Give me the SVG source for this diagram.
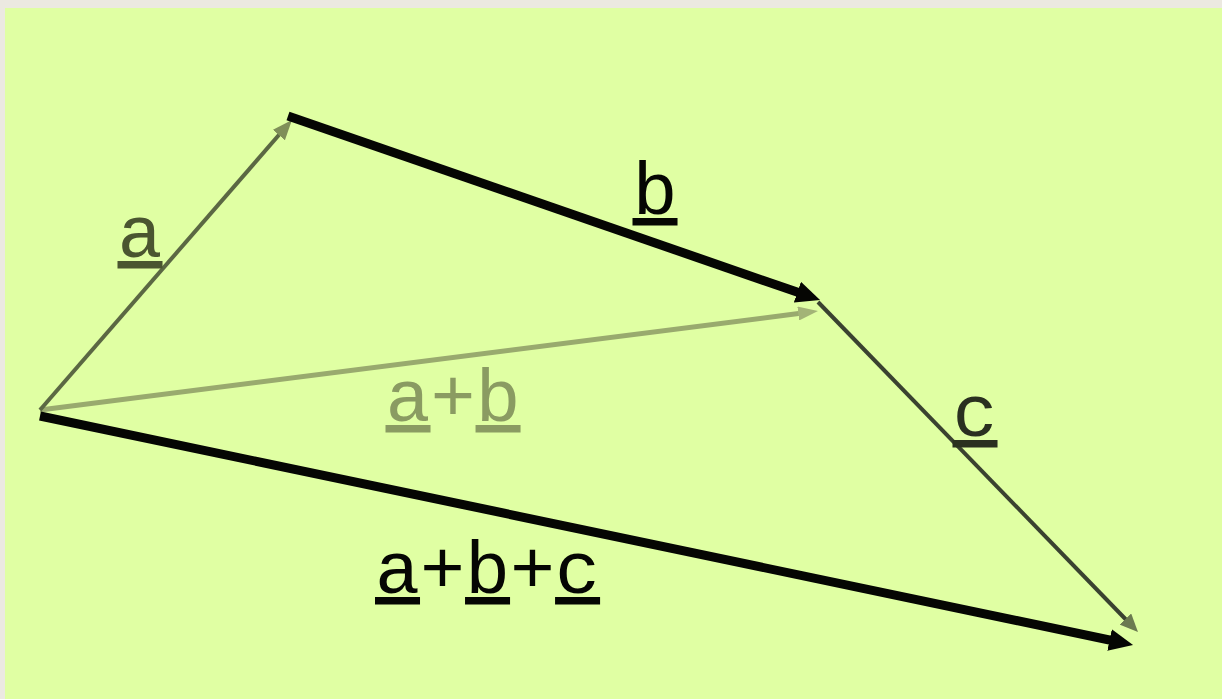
<svg xmlns="http://www.w3.org/2000/svg" width="1222" height="699" viewBox="0 0 1222 699">
  <style>
    .lbl { font-family: "Liberation Mono", "DejaVu Sans Mono", monospace; font-size: 75px; }
    .u { text-decoration: underline; }
  </style>
  <defs>
    <marker id="hA" markerUnits="userSpaceOnUse" markerWidth="20" markerHeight="16" refX="10" refY="8" orient="auto">
      <path d="M0,0 L20,8 L0,16 z" fill="#7f8f58"/>
    </marker>
    <marker id="hB" markerUnits="userSpaceOnUse" markerWidth="24" markerHeight="22" refX="12" refY="11" orient="auto">
      <path d="M0,0 L24,11 L0,22 z" fill="#050603"/>
    </marker>
    <marker id="hAB" markerUnits="userSpaceOnUse" markerWidth="20" markerHeight="14" refX="10" refY="7" orient="auto">
      <path d="M0,0 L20,7 L0,14 z" fill="#a3b477"/>
    </marker>
    <marker id="hC" markerUnits="userSpaceOnUse" markerWidth="18" markerHeight="16" refX="9" refY="8" orient="auto">
      <path d="M0,0 L18,8 L0,16 z" fill="#6b7a50"/>
    </marker>
    <marker id="hABC" markerUnits="userSpaceOnUse" markerWidth="24" markerHeight="22" refX="12" refY="11" orient="auto">
      <path d="M0,0 L24,11 L0,22 z" fill="#050603"/>
    </marker>
  </defs>

  <rect x="0" y="0" width="1222" height="699" fill="#ece9e1"/>
  <rect x="5" y="8" width="1217" height="691" fill="#e0ffa3"/>

  <g id="connectors" fill="none" stroke-linecap="butt">
    <line id="vec-ab" x1="40" y1="410" x2="808.1" y2="312.3" stroke="#99aa6e" stroke-width="5" marker-end="url(#hAB)"/>
    <line id="vec-a" x1="40" y1="410" x2="285.4" y2="127.5" stroke="#5b6843" stroke-width="4" marker-end="url(#hA)"/>
    <line id="vec-b" x1="288" y1="116" x2="808.7" y2="296.1" stroke="#050603" stroke-width="9" marker-end="url(#hB)"/>
    <line id="vec-c" x1="818" y1="302" x2="1131.7" y2="625.5" stroke="#3a4230" stroke-width="4" marker-end="url(#hC)"/>
    <line id="vec-abc" x1="40" y1="416" x2="1121.3" y2="642.5" stroke="#050603" stroke-width="9" marker-end="url(#hABC)"/>
  </g>

  <g id="label-a">
    <text class="lbl" x="117.5" y="257" fill="#4a5530"><tspan class="u">a</tspan></text>
  </g>
  <g id="label-b">
    <text class="lbl" x="632.5" y="214" fill="#050603"><tspan class="u">b</tspan></text>
  </g>
  <g id="label-ab">
    <text class="lbl" x="385.5" y="421" fill="#8a9b62"><tspan class="u">a</tspan>+<tspan class="u">b</tspan></text>
  </g>
  <g id="label-c">
    <text class="lbl" x="952.5" y="436" fill="#2a3020"><tspan class="u">c</tspan></text>
  </g>
  <g id="label-abc">
    <text class="lbl" x="375" y="593" fill="#050603"><tspan class="u">a</tspan>+<tspan class="u">b</tspan>+<tspan class="u">c</tspan></text>
  </g>
</svg>
